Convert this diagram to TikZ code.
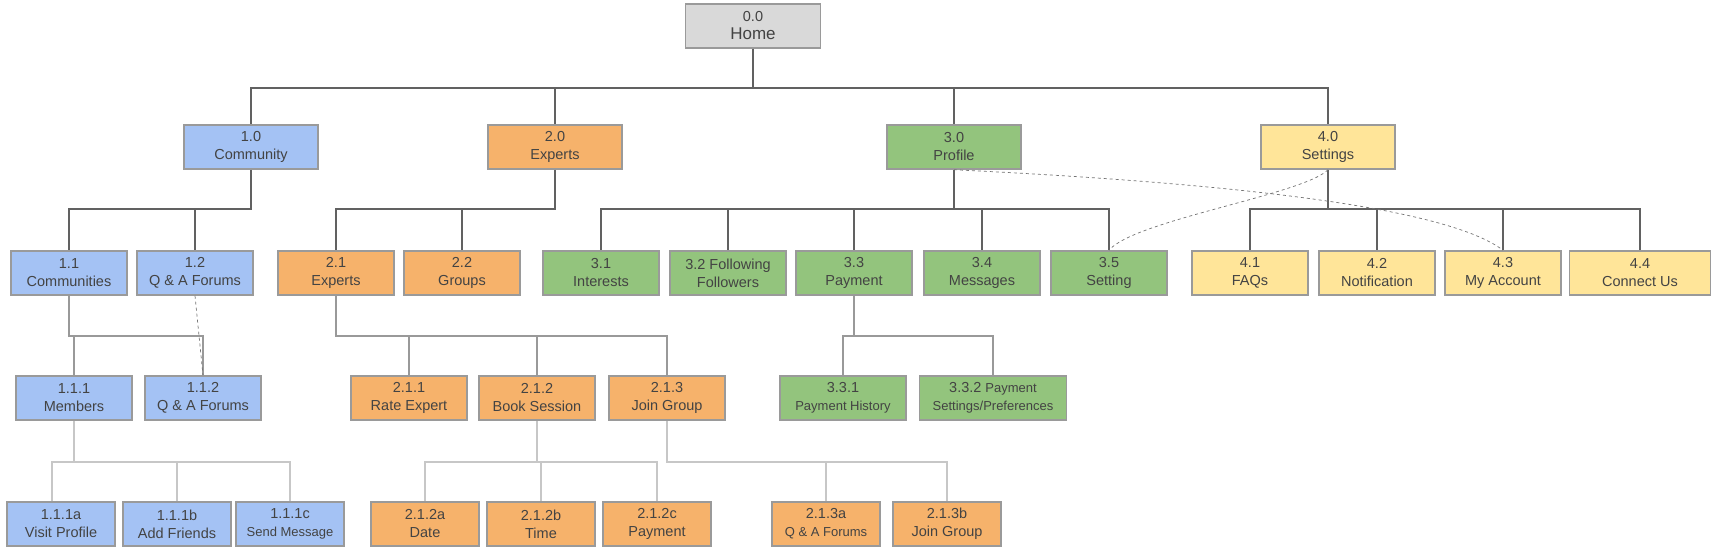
\documentclass[tikz,border=0pt]{standalone}
\usepackage{fontspec}
\setmainfont{Liberation Sans}
\usetikzlibrary{calc}
\definecolor{homegray}{HTML}{D9D9D9}
\definecolor{commblue}{HTML}{A4C2F4}
\definecolor{exporange}{HTML}{F6B26B}
\definecolor{profgreen}{HTML}{93C47D}
\definecolor{setyellow}{HTML}{FFE599}
\definecolor{boxline}{HTML}{9A9A9A}
\definecolor{txtgray}{HTML}{434343}
\tikzstyle{pagebox}=[rectangle,draw=boxline,line width=1.5pt,text=txtgray,align=center,minimum height=44pt,inner sep=1pt,font=\fontsize{14.5}{18}\selectfont]
\tikzstyle{topedge} = [draw,line width=2pt,black!62]
\tikzstyle{midedge} = [draw,line width=2pt,black!40]
\tikzstyle{lowedge} = [draw,line width=2pt,black!22]
\tikzstyle{crosslink} = [draw,dashed,line width=0.7pt,black!55]
\newcommand{\sm}{\fontsize{13}{18}\selectfont}

\begin{document}
\begin{tikzpicture}[x=1pt,y=-1pt]
\useasboundingbox (0,0) rectangle (1725,554);

\node[pagebox,fill=homegray,minimum width=135pt] (home) at (753,26) {0.0\\{\fontsize{17}{19}\selectfont Home}};

    % top level sections
    \foreach \pos/ \name/ \txt/ \col in {{(251,147)/a10/{1.0\\Community}/commblue}, {(555,147)/a20/{2.0\\Experts}/exporange}, {(954,147)/a30/{3.0\\Profile}/profgreen}, {(1328,147)/a40/{4.0\\Settings}/setyellow}}
        \node[pagebox,fill=\col,minimum width=134pt] (\name) at \pos {\txt};

    \foreach \pos/ \name/ \txt/ \col in {{(69,273)/b11/{1.1\\Communities}/commblue}, {(195,273)/b12/{1.2\\Q \& A Forums}/commblue}, {(336,273)/b21/{2.1\\Experts}/exporange}, {(462,273)/b22/{2.2\\Groups}/exporange}, {(601,273)/b31/{3.1\\Interests}/profgreen}, {(728,273)/b32/{3.2 Following\\Followers}/profgreen}, {(854,273)/b33/{3.3\\Payment}/profgreen}, {(982,273)/b34/{3.4\\Messages}/profgreen}, {(1109,273)/b35/{3.5\\Setting}/profgreen}, {(1250,273)/b41/{4.1\\FAQs}/setyellow}, {(1377,273)/b42/{4.2\\Notification}/setyellow}, {(1503,273)/b43/{4.3\\My Account}/setyellow}}
        \node[pagebox,fill=\col,minimum width=116pt] (\name) at \pos {\txt};
\node[pagebox,fill=setyellow,minimum width=141pt] (b44) at (1640,273) {4.4\\Connect Us};

    \foreach \pos/ \name/ \txt/ \col in {{(74,398)/c111/{1.1.1\\Members}/commblue}, {(203,398)/c112/{1.1.2\\Q \& A Forums}/commblue}, {(409,398)/c211/{2.1.1\\Rate Expert}/exporange}, {(537,398)/c212/{2.1.2\\Book Session}/exporange}, {(667,398)/c213/{2.1.3\\Join Group}/exporange}}
        \node[pagebox,fill=\col,minimum width=116pt] (\name) at \pos {\txt};
\node[pagebox,fill=profgreen,minimum width=126pt] (c331) at (843,398) {3.3.1\\{\sm Payment History}};
\node[pagebox,fill=profgreen,minimum width=147pt] (c332) at (993,398) {3.3.2 {\sm Payment}\\{\sm Settings/Preferences}};

    \foreach \pos/ \name/ \txt/ \col in {{(61,524)/d111a/{1.1.1a\\Visit Profile}/commblue}, {(177,524)/d111b/{1.1.1b\\Add Friends}/commblue}, {(290,524)/d111c/{1.1.1c\\{\sm Send Message}}/commblue}, {(425,524)/d212a/{2.1.2a\\Date}/exporange}, {(541,524)/d212b/{2.1.2b\\Time}/exporange}, {(657,524)/d212c/{2.1.2c\\Payment}/exporange}, {(826,524)/d213a/{2.1.3a\\{\sm Q \& A Forums}}/exporange}, {(947,524)/d213b/{2.1.3b\\Join Group}/exporange}}
        \node[pagebox,fill=\col,minimum width=108pt] (\name) at \pos {\txt};

    % Connect pages with tree edges
    \foreach \source/ \dest in {home/a10, home/a20, home/a30, home/a40, a10/b11, a10/b12, a20/b21, a20/b22, a30/b31, a30/b32, a30/b33, a30/b34, a30/b35, a40/b41, a40/b42, a40/b43, a40/b44}
        \path[topedge] (\source.south) -- ++(0,39) -| (\dest.north);

    \foreach \source/ \dest in {b11/c111, b11/c112, b21/c211, b21/c212, b21/c213, b33/c331, b33/c332}
        \path[midedge] (\source.south) -- ++(0,40) -| (\dest.north);

    \foreach \source/ \dest in {c111/d111b, c111/d111c, c212/d212a, c212/d212b, c212/d212c, c213/d213a, c213/d213b}
        \path[lowedge] (\source.south) -- ++(0,41) -| (\dest.north);
\path[lowedge] (c111.south) -- ++(0,41) -| ([xshift=-9pt]d111a.north);

    % cross links
    \path[crosslink] (b12.south) -- (c112.north);
    \draw[crosslink] (a30.south) .. controls +(250,12) and +(-60,-46) .. (b43.north);
    \draw[crosslink] (a40.south) .. controls +(-25,25) and +(25,-30) .. (b35.north);

\end{tikzpicture}
\end{document}
